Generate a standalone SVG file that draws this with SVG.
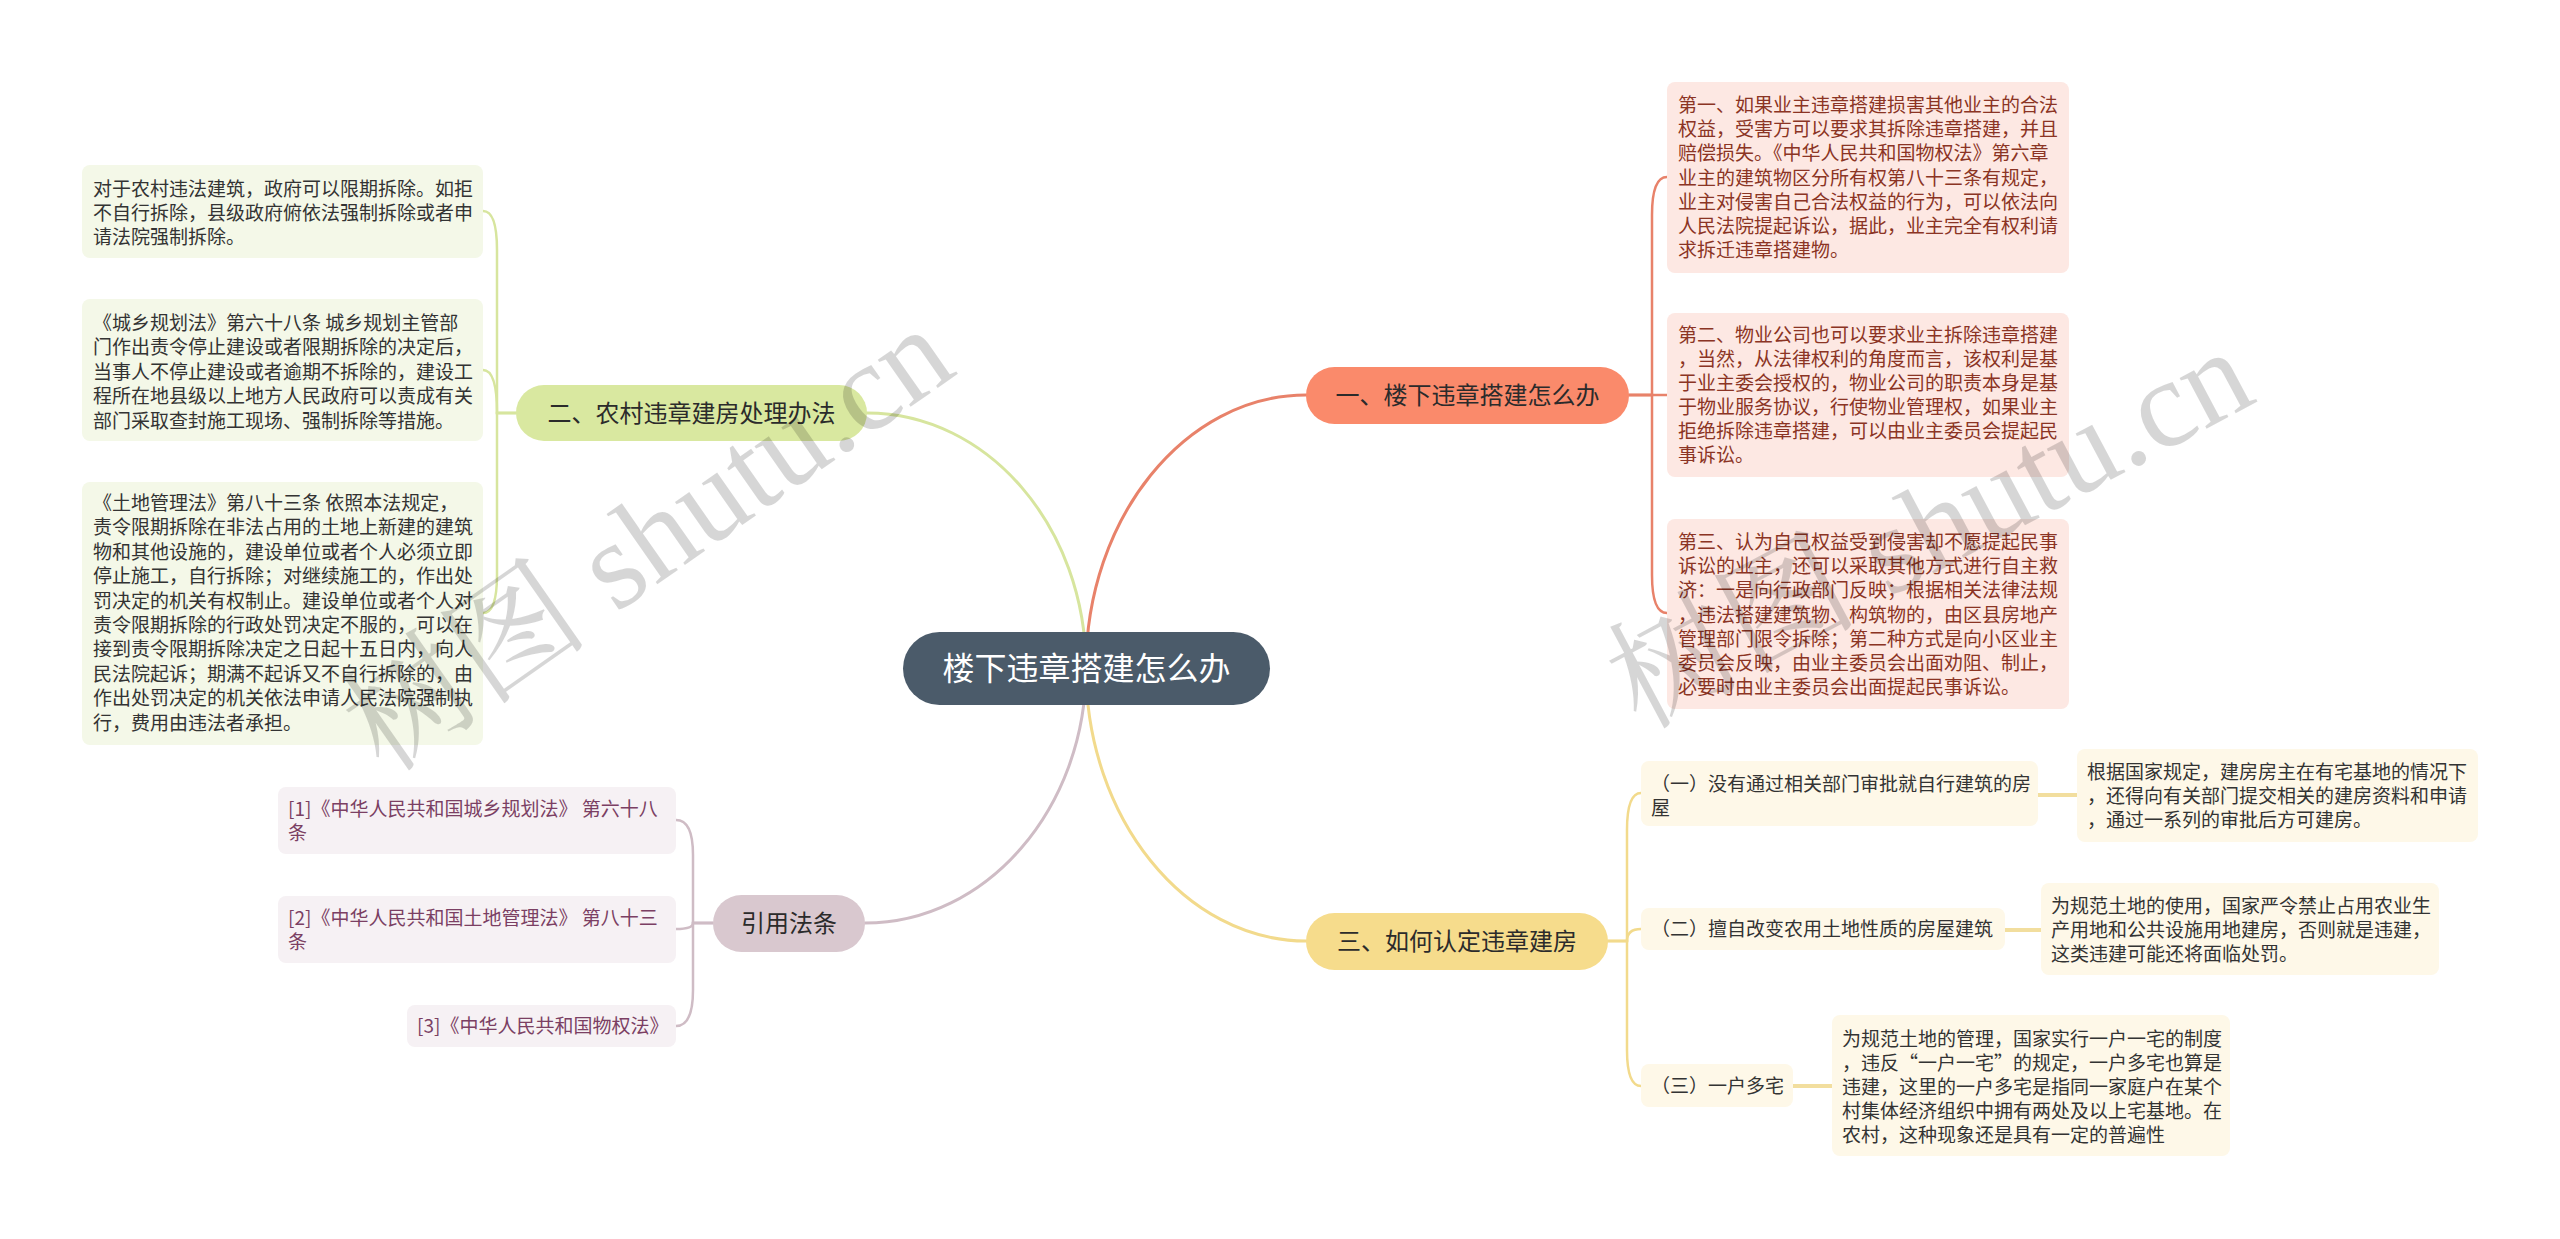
<svg xmlns="http://www.w3.org/2000/svg" width="2560" height="1239" viewBox="0 0 2560 1239">
<style>
.t{font-family:"Noto Sans CJK SC","Noto Sans",sans-serif;font-size:19px}
.b{font-family:"Noto Sans CJK SC","Noto Sans",sans-serif;font-size:24px;text-anchor:middle;fill:#2b2b2b}
.c1{fill:#FDE8E3}.tc1{fill:#8B3424}
.c2{fill:#F4F8E8}.tc2{fill:#333}
.c3{fill:#FEF8E8}.tc3{fill:#333}
.c4{fill:#F6F1F4}.tc4{fill:#7B3F63}
.l{fill:none;stroke-linecap:round}
.wm{font-family:"Liberation Serif","Noto Serif CJK SC","Noto Sans CJK SC",serif;font-size:125px;fill:#000;fill-opacity:0.16}
</style>
<rect width="2560" height="1239" fill="#fff"/>
<g id="connectors">
<path class="l" stroke="#E8826A" stroke-width="3" d="M1086 668 C1086 518 1185 395 1306 395"/>
<path class="l" stroke="#D7E59E" stroke-width="3" d="M1086 668 C1086 527 988 413 867 413"/>
<path class="l" stroke="#F2DA8C" stroke-width="3" d="M1086 668 C1086 818 1185 941 1306 941"/>
<path class="l" stroke="#CFBCC5" stroke-width="3" d="M1086 668 C1086 808 987 923 865 923"/>
<g stroke="#E8826A" stroke-width="2.5" class="l">
<path d="M1629 395 H1652 V215 Q1652 177 1667 177"/>
<path d="M1629 395 H1667"/>
<path d="M1629 395 H1652 V575 Q1652 613 1667 613"/>
</g>
<g stroke="#D7E59E" stroke-width="2.5" class="l">
<path d="M516 413 H497 V250 Q497 211 483 211"/>
<path d="M516 413 H497 Q497 370 483 370"/>
<path d="M516 413 H497 V575 Q497 613 483 613"/>
</g>
<g stroke="#F2DA8C" stroke-width="2.5" class="l">
<path d="M1608 941 H1627 V830 Q1627 793 1641 793"/>
<path d="M1608 941 H1627 Q1627 929 1641 929"/>
<path d="M1608 941 H1627 V1050 Q1627 1086 1641 1086"/>
</g>
<g stroke="#F2DE9E" stroke-width="4" class="l">
<path d="M2038 795 H2077"/>
<path d="M2005 930 H2041"/>
<path d="M1793 1086 H1832"/>
</g>
<g stroke="#CFBCC5" stroke-width="2.5" class="l">
<path d="M713 923 H693 V855 Q693 820 676 820"/>
<path d="M713 923 H693 Q693 929 676 929"/>
<path d="M713 923 H693 V990 Q693 1026 676 1026"/>
</g>
</g>
<g id="center">
<rect x="903" y="632" width="367" height="73" rx="36.5" fill="#4B5B6A"/>
<text x="1086.5" y="680" text-anchor="middle" font-family="Noto Sans CJK SC,sans-serif" font-size="32" fill="#fff">楼下违章搭建怎么办</text>
</g>
<g id="b1">
<rect x="1306" y="367" width="323" height="57" rx="28.5" fill="#FA8A6B"/>
<text class="b" x="1467.5" y="404">一、楼下违章搭建怎么办</text>
</g>
<g id="b2">
<rect x="516" y="385" width="351" height="56" rx="28" fill="#D9E8A0"/>
<text class="b" x="691.5" y="422">二、农村违章建房处理办法</text>
</g>
<g id="b3">
<rect x="1306" y="913" width="302" height="57" rx="28.5" fill="#F6DC8C"/>
<text class="b" x="1457" y="950">三、如何认定违章建房</text>
</g>
<g id="b4">
<rect x="713" y="895" width="152" height="57" rx="28.5" fill="#D9C8CF"/>
<text class="b" x="789" y="932">引用法条</text>
</g>
<g id="n1-1">
<rect class="c1" x="1667" y="82" width="402" height="191" rx="8"/>
<text class="t tc1"><tspan x="1678" y="112">第一、如果业主违章搭建损害其他业主的合法</tspan><tspan x="1678" y="136.2">权益，受害方可以要求其拆除违章搭建，并且</tspan><tspan x="1678" y="160.4">赔偿损失。《中华人民共和国物权法》第六章</tspan><tspan x="1678" y="184.6">业主的建筑物区分所有权第八十三条有规定，</tspan><tspan x="1678" y="208.8">业主对侵害自己合法权益的行为，可以依法向</tspan><tspan x="1678" y="233">人民法院提起诉讼，据此，业主完全有权利请</tspan><tspan x="1678" y="257.2">求拆迁违章搭建物。</tspan></text>
</g>
<g id="n1-2">
<rect class="c1" x="1667" y="313" width="402" height="164" rx="8"/>
<text class="t tc1"><tspan x="1678" y="342">第二、物业公司也可以要求业主拆除违章搭建</tspan><tspan x="1678" y="366">，当然，从法律权利的角度而言，该权利是基</tspan><tspan x="1678" y="390">于业主委会授权的，物业公司的职责本身是基</tspan><tspan x="1678" y="414">于物业服务协议，行使物业管理权，如果业主</tspan><tspan x="1678" y="438">拒绝拆除违章搭建，可以由业主委员会提起民</tspan><tspan x="1678" y="462">事诉讼。</tspan></text>
</g>
<g id="n1-3">
<rect class="c1" x="1667" y="519" width="402" height="190" rx="8"/>
<text class="t tc1"><tspan x="1678" y="549">第三、认为自己权益受到侵害却不愿提起民事</tspan><tspan x="1678" y="573.2">诉讼的业主，还可以采取其他方式进行自主救</tspan><tspan x="1678" y="597.4">济：一是向行政部门反映；根据相关法律法规</tspan><tspan x="1678" y="621.6">，违法搭建建筑物、构筑物的，由区县房地产</tspan><tspan x="1678" y="645.8">管理部门限令拆除；第二种方式是向小区业主</tspan><tspan x="1678" y="670">委员会反映，由业主委员会出面劝阻、制止，</tspan><tspan x="1678" y="694.2">必要时由业主委员会出面提起民事诉讼。</tspan></text>
</g>
<g id="n2-1">
<rect class="c2" x="82" y="165" width="401" height="93" rx="8"/>
<text class="t tc2"><tspan x="93" y="196">对于农村违法建筑，政府可以限期拆除。如拒</tspan><tspan x="93" y="220">不自行拆除，县级政府俯依法强制拆除或者申</tspan><tspan x="93" y="244">请法院强制拆除。</tspan></text>
</g>
<g id="n2-2">
<rect class="c2" x="82" y="299" width="401" height="142" rx="8"/>
<text class="t tc2"><tspan x="93" y="330">《城乡规划法》第六十八条 城乡规划主管部</tspan><tspan x="93" y="354.4">门作出责令停止建设或者限期拆除的决定后，</tspan><tspan x="93" y="378.8">当事人不停止建设或者逾期不拆除的，建设工</tspan><tspan x="93" y="403.2">程所在地县级以上地方人民政府可以责成有关</tspan><tspan x="93" y="427.6">部门采取查封施工现场、强制拆除等措施。</tspan></text>
</g>
<g id="n2-3">
<rect class="c2" x="82" y="482" width="401" height="263" rx="8"/>
<text class="t tc2"><tspan x="93" y="510">《土地管理法》第八十三条 依照本法规定，</tspan><tspan x="93" y="534.4">责令限期拆除在非法占用的土地上新建的建筑</tspan><tspan x="93" y="558.8">物和其他设施的，建设单位或者个人必须立即</tspan><tspan x="93" y="583.2">停止施工，自行拆除；对继续施工的，作出处</tspan><tspan x="93" y="607.6">罚决定的机关有权制止。建设单位或者个人对</tspan><tspan x="93" y="632">责令限期拆除的行政处罚决定不服的，可以在</tspan><tspan x="93" y="656.4">接到责令限期拆除决定之日起十五日内，向人</tspan><tspan x="93" y="680.8">民法院起诉；期满不起诉又不自行拆除的，由</tspan><tspan x="93" y="705.2">作出处罚决定的机关依法申请人民法院强制执</tspan><tspan x="93" y="729.6">行，费用由违法者承担。</tspan></text>
</g>
<g id="n3-1">
<rect class="c3" x="1641" y="761" width="397" height="65" rx="8"/>
<text class="t tc3"><tspan x="1651" y="791">（一）没有通过相关部门审批就自行建筑的房</tspan><tspan x="1651" y="815">屋</tspan></text>
</g>
<g id="n3-1-1">
<rect class="c3" x="2077" y="749" width="401" height="93" rx="8"/>
<text class="t tc3"><tspan x="2087" y="779">根据国家规定，建房房主在有宅基地的情况下</tspan><tspan x="2087" y="803">，还得向有关部门提交相关的建房资料和申请</tspan><tspan x="2087" y="827">，通过一系列的审批后方可建房。</tspan></text>
</g>
<g id="n3-2">
<rect class="c3" x="1641" y="908" width="364" height="42" rx="8"/>
<text class="t tc3" x="1651" y="936">（二）擅自改变农用土地性质的房屋建筑</text>
</g>
<g id="n3-2-1">
<rect class="c3" x="2041" y="883" width="398" height="92" rx="8"/>
<text class="t tc3"><tspan x="2051" y="913">为规范土地的使用，国家严令禁止占用农业生</tspan><tspan x="2051" y="937">产用地和公共设施用地建房，否则就是违建，</tspan><tspan x="2051" y="961">这类违建可能还将面临处罚。</tspan></text>
</g>
<g id="n3-3">
<rect class="c3" x="1641" y="1064" width="152" height="43" rx="8"/>
<text class="t tc3" x="1651" y="1093">（三）一户多宅</text>
</g>
<g id="n3-3-1">
<rect class="c3" x="1832" y="1015" width="398" height="141" rx="8"/>
<text class="t tc3"><tspan x="1842" y="1046">为规范土地的管理，国家实行一户一宅的制度</tspan><tspan x="1842" y="1070">，违反“一户一宅”的规定，一户多宅也算是</tspan><tspan x="1842" y="1094">违建，这里的一户多宅是指同一家庭户在某个</tspan><tspan x="1842" y="1118">村集体经济组织中拥有两处及以上宅基地。在</tspan><tspan x="1842" y="1142">农村，这种现象还是具有一定的普遍性</tspan></text>
</g>
<g id="n4-1">
<rect class="c4" x="278" y="787" width="398" height="67" rx="8"/>
<text class="t tc4"><tspan x="288" y="816">[1]《中华人民共和国城乡规划法》 第六十八</tspan><tspan x="288" y="840">条</tspan></text>
</g>
<g id="n4-2">
<rect class="c4" x="278" y="896" width="398" height="67" rx="8"/>
<text class="t tc4"><tspan x="288" y="925">[2]《中华人民共和国土地管理法》 第八十三</tspan><tspan x="288" y="949">条</tspan></text>
</g>
<g id="n4-3">
<rect class="c4" x="407" y="1005" width="269" height="42" rx="8"/>
<text class="t tc4" x="417" y="1033">[3]《中华人民共和国物权法》</text>
</g>
<g id="watermarks">
<text class="wm" transform="translate(385 775) rotate(-35)">树图 shutu.cn</text>
<text class="wm" transform="translate(1640 730) rotate(-28)">树图 shutu.cn</text>
</g>
</svg>
